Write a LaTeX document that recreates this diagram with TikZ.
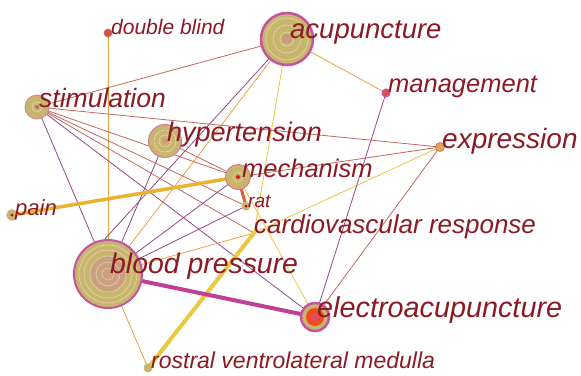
\documentclass[tikz,border=0pt]{standalone}
\usepackage{fontspec}
\setmainfont{Liberation Sans}
\definecolor{khaki}{RGB}{201,182,110}
\definecolor{magring}{RGB}{196,84,160}
\definecolor{pinkc}{RGB}{208,128,150}
\definecolor{lblred}{RGB}{140,26,36}
\definecolor{cpur}{RGB}{150,72,140}
\definecolor{cbrn}{RGB}{196,104,96}
\definecolor{corg}{RGB}{232,162,72}
\definecolor{cyel}{RGB}{234,200,64}
\definecolor{cthick}{RGB}{234,178,48}
\definecolor{cmag}{RGB}{192,64,150}
\definecolor{credorg}{RGB}{214,96,64}
\pgfdeclarelayer{bg}
\pgfdeclarelayer{edges}
\pgfsetlayers{bg,edges,main}
\begin{document}
\begin{tikzpicture}[x=1pt,y=-1pt,
  kw/.style={circle,inner sep=0pt,fill=khaki},
  ring/.style={draw=white,opacity=.5,line width=.5pt},
  lbl/.style={anchor=base west,inner sep=0pt,text=lblred},
  pur/.style={draw=cpur,line width=.8pt},
  brn/.style={draw=cbrn,line width=.8pt},
  org/.style={draw=corg,line width=.8pt},
  yel/.style={draw=cyel,line width=.8pt}]
\begin{pgfonlayer}{bg}
\fill[white] (0,0) rectangle (581,375);
\end{pgfonlayer}
\useasboundingbox (0,0) rectangle (581,375);

% ---- nodes ----
\node[kw,minimum size=52pt,draw=magring,line width=2.5pt] (acu) at (287,39) {};
\node[kw,minimum size=68pt,draw=magring,line width=2pt] (bp) at (108,274) {};
\node[kw,minimum size=28pt,draw=magring,line width=2.5pt] (ele) at (315,317) {};
\node[kw,minimum size=33pt,draw=pinkc,line width=1pt] (hyp) at (165,141) {};
\node[kw,minimum size=25pt,draw=pinkc,line width=1pt] (mec) at (238,177) {};
\node[kw,minimum size=24pt,draw=pinkc,line width=.8pt] (sti) at (37,107) {};
\node[circle,inner sep=0pt,minimum size=8pt,fill=pinkc!60!red,draw=magring,line width=1pt] (man) at (386,93) {};
\node[circle,inner sep=0pt,minimum size=9pt,fill=corg!70!khaki,draw=cbrn,line width=.6pt] (exp) at (440,147) {};
\node[circle,inner sep=0pt,minimum size=8pt,fill=cbrn!80!red,draw=cbrn,line width=.6pt] (dbl) at (108,33) {};
\node[kw,minimum size=11pt,draw=cbrn!60,line width=.5pt] (pai) at (12,215) {};
\node[kw,minimum size=9pt] (rat) at (246,206) {};
\node[kw,minimum size=9pt] (rvm) at (148,368) {};
\node[circle,inner sep=0pt,minimum size=4pt,fill=cyel] (cvr) at (254,233) {};

% ---- ring decorations ----
\foreach \r in {7,14,21} \draw[ring] (acu.center) circle (\r pt);
\fill[pinkc,opacity=.5] (acu.center) circle (5pt);
\fill[pinkc,opacity=.4] (bp.center) circle (18pt);
\foreach \r in {6,12,18,24,29} \draw[ring] (bp.center) circle (\r pt);
\fill[red!70!orange,opacity=.75] (ele.center) circle (9pt);
\fill[pinkc!60!red] (ele.center) circle (4.5pt);
\foreach \r in {6,11} \draw[ring] (hyp.center) circle (\r pt);
\fill[pinkc,opacity=.5] (hyp.center) circle (3pt);
\foreach \r in {5} \draw[ring] (mec.center) circle (\r pt);
\fill[red!80!black,opacity=.8] (mec.center) circle (2pt);
\foreach \r in {5} \draw[ring] (sti.center) circle (\r pt);
\fill[cpur,opacity=.6] (sti.center) circle (2pt);
\fill[red!70!black] (pai.center) circle (1.5pt);
\fill[red!70!black] (rat.center) circle (1.5pt);

% ---- edges ----
\begin{pgfonlayer}{edges}
\draw[org] (dbl.center) -- (bp.center);
\draw[brn] (acu.center) -- (sti.center);
\draw[org] (acu.center) -- (man.center);
\draw[org] (acu.center) -- (bp.center);
\draw[pur] (acu.center) -- (bp.west);
\draw[yel] (acu.center) -- (cvr.center);
\draw[brn] (sti.center) -- (exp.center);
\draw[pur] (sti.center) -- (bp.center);
\draw[brn] (sti.center) -- (mec.center);
\draw[brn] (sti.center) -- (rat.center);
\draw[brn] (sti.center) -- (cvr.center);
\draw[pur] (sti.center) -- (ele.center);
\draw[pur] (hyp.center) -- (bp.center);
\draw[brn] (hyp.center) -- (mec.center);
\draw[brn] (mec.center) -- (exp.center);
\draw[yel] (mec.center) -- (ele.center);
\draw[pur] (mec.center) -- (bp.center);
\draw[pur] (rat.center) -- (bp.center);
\draw[org] (cvr.center) -- (bp.center);
\draw[yel] (cvr.center) -- (exp.center);
\draw[org] (bp.center) -- (rvm.center);
\draw[brn] (exp.center) -- (ele.center);
\draw[pur] (man.center) -- (ele.center);
\draw[draw=cthick,line width=3.5pt] (pai.center) -- (mec.center);
\draw[draw=cyel,line width=4pt] (rvm.center) -- (cvr.center);
\draw[draw=cmag,line width=4pt] (bp.center) -- (ele.center);
\draw[draw=credorg,line width=3pt] (mec.center) -- (rat.center);
\end{pgfonlayer}

% ---- labels ----
\node[lbl,font=\itshape\fontsize{21}{23}\selectfont] (tdbl) at (111,34) {double blind};
\node[lbl,font=\itshape\fontsize{27.5}{30}\selectfont] (tacu) at (290,38) {acupuncture};
\node[lbl,font=\itshape\fontsize{25.5}{28}\selectfont] (tman) at (388,92) {management};
\node[lbl,font=\itshape\fontsize{26.5}{29}\selectfont] (tsti) at (39,107) {stimulation};
\node[lbl,font=\itshape\fontsize{27}{29}\selectfont] (thyp) at (167,141) {hypertension};
\node[lbl,font=\itshape\fontsize{28}{30}\selectfont] (texp) at (442,148) {expression};
\node[lbl,font=\itshape\fontsize{25.5}{28}\selectfont] (tmec) at (242,177) {mechanism};
\node[lbl,font=\itshape\fontsize{22}{24}\selectfont] (tpai) at (15,215) {pain};
\node[lbl,font=\itshape\fontsize{19}{21}\selectfont] (trat) at (248,207) {rat};
\node[lbl,font=\itshape\fontsize{26}{28}\selectfont] (tcvr) at (254,233) {cardiovascular response};
\node[lbl,font=\itshape\fontsize{28.4}{31}\selectfont] (tbp) at (110,273) {blood pressure};
\node[lbl,font=\itshape\fontsize{28.8}{31}\selectfont] (tele) at (317,317) {electroacupuncture};
\node[lbl,font=\itshape\fontsize{23}{25}\selectfont] (trvm) at (151,368) {rostral ventrolateral medulla};
\end{tikzpicture}
\end{document}
